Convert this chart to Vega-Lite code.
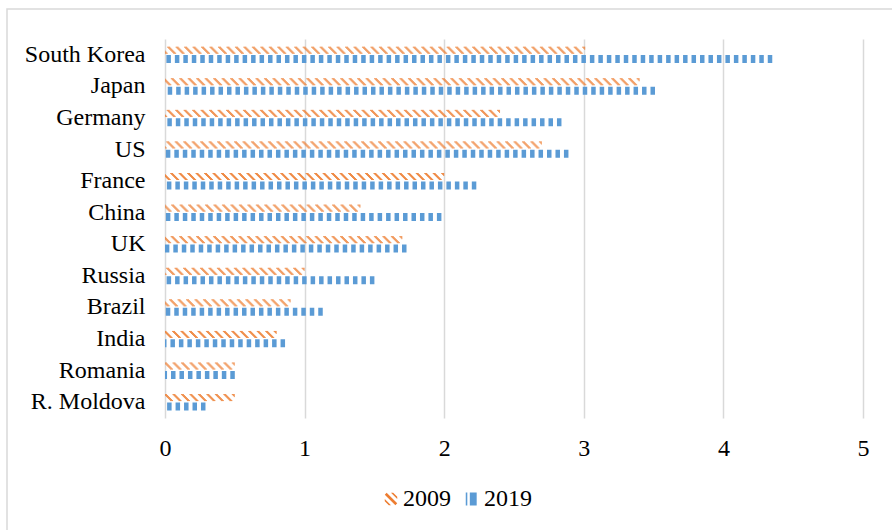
{
  "$schema": "https://vega.github.io/schema/vega-lite/v6.json",
  "width": 888,
  "height": 524,
  "autosize": {"type": "none"},
  "padding": {"left": 7, "top": 9, "right": -3, "bottom": -3},
  "background": "white",
  "config": {
    "view": {"stroke": "#d9d9d9", "strokeWidth": 1.5},
    "font": "Liberation Serif"
  },
  "data": {
    "values": [
      {"country": "South Korea", "year": "2009", "value": 3.01},
      {"country": "South Korea", "year": "2019", "value": 4.35},
      {"country": "Japan", "year": "2009", "value": 3.40},
      {"country": "Japan", "year": "2019", "value": 3.51},
      {"country": "Germany", "year": "2009", "value": 2.40},
      {"country": "Germany", "year": "2019", "value": 2.84},
      {"country": "US", "year": "2009", "value": 2.70},
      {"country": "US", "year": "2019", "value": 2.89},
      {"country": "France", "year": "2009", "value": 2.00},
      {"country": "France", "year": "2019", "value": 2.23},
      {"country": "China", "year": "2009", "value": 1.40},
      {"country": "China", "year": "2019", "value": 1.98},
      {"country": "UK", "year": "2009", "value": 1.70},
      {"country": "UK", "year": "2019", "value": 1.73},
      {"country": "Russia", "year": "2009", "value": 1.00},
      {"country": "Russia", "year": "2019", "value": 1.50},
      {"country": "Brazil", "year": "2009", "value": 0.90},
      {"country": "Brazil", "year": "2019", "value": 1.13},
      {"country": "India", "year": "2009", "value": 0.80},
      {"country": "India", "year": "2019", "value": 0.86},
      {"country": "Romania", "year": "2009", "value": 0.50},
      {"country": "Romania", "year": "2019", "value": 0.50},
      {"country": "R. Moldova", "year": "2009", "value": 0.50},
      {"country": "R. Moldova", "year": "2019", "value": 0.29}
    ]
  },
  "encoding": {
    "y": {
      "field": "country",
      "type": "nominal",
      "bandPosition": 0.5,
      "sort": ["South Korea", "Japan", "Germany", "US", "France", "China", "UK", "Russia", "Brazil", "India", "Romania", "R. Moldova"],
      "scale": {"type": "band", "range": [30, 409], "paddingInner": 0, "paddingOuter": 0},
      "axis": {
        "title": null,
        "offset": -158,
        "domain": false,
        "ticks": false,
        "grid": false,
        "labelPadding": 20,
        "labelFont": "Liberation Serif",
        "labelFontSize": 24,
        "labelColor": "#000000"
      }
    },
    "x": {
      "field": "value",
      "type": "quantitative",
      "scale": {"domain": [0, 5], "range": [158, 856], "nice": false},
      "axis": {
        "title": null,
        "orient": "top",
        "offset": -453,
        "values": [0, 1, 2, 3, 4, 5],
        "domain": false,
        "ticks": false,
        "grid": true,
        "gridColor": "#d9d9d9",
        "gridWidth": 1.5,
        "labelPadding": 2,
        "labelFlush": false,
        "labelOverlap": false,
        "labelFont": "Liberation Serif",
        "labelFontSize": 24,
        "labelColor": "#000000"
      }
    },
    "x2": {"datum": 0}
  },
  "layer": [
    {"transform": [{"filter": "datum.year === '2009'"}], "mark": {"type": "rule", "color": "#ED7D31", "opacity": 0.9, "strokeWidth": 1, "yOffset": -7.6, "strokeDash": [3, 5.47], "strokeDashOffset": 0}},
    {"transform": [{"filter": "datum.year === '2009'"}], "mark": {"type": "rule", "color": "#ED7D31", "opacity": 0.9, "strokeWidth": 1, "yOffset": -6.6, "strokeDash": [3, 5.47], "strokeDashOffset": 1}},
    {"transform": [{"filter": "datum.year === '2009'"}], "mark": {"type": "rule", "color": "#ED7D31", "opacity": 0.9, "strokeWidth": 1, "yOffset": -5.6, "strokeDash": [3, 5.47], "strokeDashOffset": 2}},
    {"transform": [{"filter": "datum.year === '2009'"}], "mark": {"type": "rule", "color": "#ED7D31", "opacity": 0.9, "strokeWidth": 1, "yOffset": -4.6, "strokeDash": [3, 5.47], "strokeDashOffset": 3}},
    {"transform": [{"filter": "datum.year === '2009'"}], "mark": {"type": "rule", "color": "#ED7D31", "opacity": 0.9, "strokeWidth": 1, "yOffset": -3.6, "strokeDash": [3, 5.47], "strokeDashOffset": 4}},
    {"transform": [{"filter": "datum.year === '2009'"}], "mark": {"type": "rule", "color": "#ED7D31", "opacity": 0.9, "strokeWidth": 1, "yOffset": -2.6, "strokeDash": [3, 5.47], "strokeDashOffset": 5}},
    {"transform": [{"filter": "datum.year === '2009'"}], "mark": {"type": "rule", "color": "#ED7D31", "opacity": 0.9, "strokeWidth": 1, "yOffset": -1.6, "strokeDash": [3, 5.47], "strokeDashOffset": 6}},
    {"transform": [{"filter": "datum.year === '2019'"}], "mark": {"type": "rule", "color": "#5B9BD5", "strokeWidth": 8, "yOffset": 4.3, "strokeDash": [4.5, 3.97], "strokeDashOffset": 0}},
    {
      "transform": [{"filter": "false"}],
      "mark": {"type": "point", "filled": true, "opacity": 1},
      "encoding": {
        "x2": null,
        "color": {
          "field": "year",
          "type": "nominal",
          "scale": {"domain": ["2009", "2019"], "range": ["#ED7D31", "#5B9BD5"]},
          "legend": {
            "title": null,
            "orient": "none",
            "legendX": 372,
            "legendY": 478,
            "direction": "horizontal",
            "symbolSize": 156,
            "symbolStrokeWidth": 0,
            "labelFont": "Liberation Serif",
            "labelFontSize": 24,
            "labelColor": "#000000",
            "labelOffset": 0,
            "columnPadding": 9
          }
        },
        "shape": {
          "field": "year",
          "type": "nominal",
          "scale": {
            "domain": ["2009", "2019"],
            "range": [
              "M-1,-0.7L-0.7,-1L1,0.7L0.7,1Z M0,-1L0.35,-1L1,-0.35L1,0Z M-1,0L-1,0.35L-0.35,1L0,1Z",
              "M-1,-1.05L-0.75,-1.05L-0.75,1.05L-1,1.05Z M-0.35,-1.05L0.75,-1.05L0.75,1.05L-0.35,1.05Z"
            ]
          },
          "legend": {
            "title": null,
            "orient": "none",
            "legendX": 372,
            "legendY": 478,
            "direction": "horizontal",
            "symbolSize": 156,
            "symbolStrokeWidth": 0,
            "labelFont": "Liberation Serif",
            "labelFontSize": 24,
            "labelColor": "#000000",
            "labelOffset": 0,
            "columnPadding": 9
          }
        }
      }
    }
  ]
}
